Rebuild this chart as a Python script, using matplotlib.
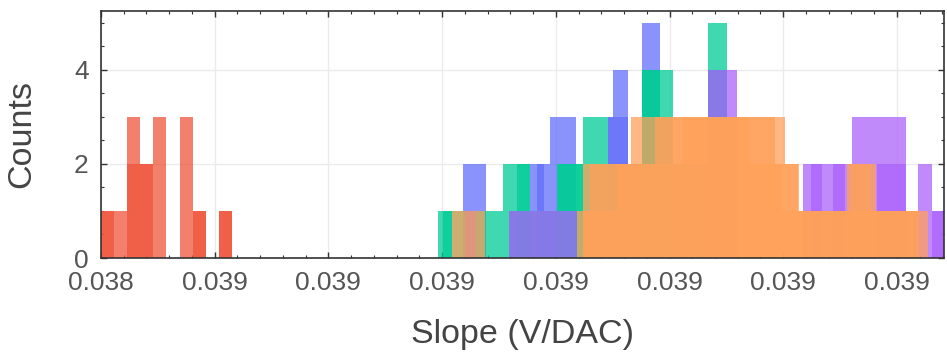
import numpy as np
import matplotlib.pyplot as plt
from matplotlib.ticker import MultipleLocator, FixedLocator

plt.rcParams['font.family'] = ['Liberation Sans', 'DejaVu Sans']

RED = '#EF553B'
GREEN = '#00CC96'
BLUE = '#636EFA'
PURPLE = '#AB63FA'
ORANGE = '#FFA15A'

# red group (two runs on the same bins)
red_start = 0.03845
red_width = 5.76e-6
red_a_counts = [1, 1, 3, 2, 3, 0, 3, 1, 0, 1]
red_b_counts = [1, 0, 2, 2, 0, 0, 0, 1, 0, 1]

# blue group
blue_a_edges = [0.0386092, 0.0386193, 0.0386294, 0.0386387, 0.0386475, 0.0386589, 0.0386730,
                0.0386752, 0.0386818, 0.0386879, 0.0386958, 0.0387169, 0.0387253]
blue_a_counts = [2, 0, 1, 2, 3, 0, 3, 4, 1, 5, 1, 4]
blue_b_edges = [0.0386294, 0.0386417, 0.0386448, 0.0386475, 0.0386593, 0.0386730, 0.0386818]
blue_b_counts = [0, 2, 1, 1, 0, 3]

# green group
green_a_edges = [0.0385982, 0.0386044, 0.0386189, 0.0386268, 0.0386387, 0.0386505, 0.0386620,
                 0.0386730, 0.0386879, 0.0386958, 0.0387015, 0.0387169, 0.0387253]
green_a_counts = [1, 1, 1, 2, 1, 2, 3, 2, 4, 4, 2, 5]
green_b_edges = [0.0386004, 0.0386044, 0.0386329, 0.0386387, 0.0386505, 0.0386620,
                 0.0386879, 0.0386958, 0.0387015]
green_b_counts = [1, 0, 2, 0, 2, 0, 4, 3]

# purple group
purple_a_edges = [0.0386101, 0.0386149, 0.0386294, 0.0386593, 0.0387169, 0.0387297, 0.0387587,
                  0.0387803, 0.0387913, 0.0388040, 0.0388093, 0.0388154, 0.0388207]
purple_a_counts = [1, 0, 1, 0, 4, 0, 2, 3, 3, 1, 2, 1]
purple_b_edges = [0.0387622, 0.0387671, 0.0387719, 0.0387772, 0.0387913, 0.0388040,
                  0.0388154, 0.0388207]
purple_b_counts = [2, 0, 2, 0, 2, 0, 1]

# orange group (three runs, uniform bins each)
orange_a_start, orange_a_width = 0.0386593, 5.72e-6
orange_a_counts = [1, 2, 2, 2, 2, 2, 3, 3, 3, 3, 3, 3, 3, 3, 3, 3, 2, 1, 1, 1, 1, 2, 2, 1, 1, 1, 1]
orange_b_start, orange_b_width = 0.0386620, 1.055e-5
orange_b_counts = [2, 2, 3, 3, 3, 3, 3, 3, 2, 1, 1, 2, 1, 1]
orange_c_start, orange_c_width = 0.0386044, 1.451e-5
orange_c_counts = [1, 0, 0, 0, 1, 2, 2, 3, 3, 2, 1, 1, 1, 1]

x_ticks = [0.03845, 0.03850, 0.03855, 0.03860, 0.03865, 0.03870, 0.03875, 0.03880]
x_tick_labels = ['0.038', '0.039', '0.039', '0.039', '0.039', '0.039', '0.039', '0.039']
x_range = (0.03845, 0.0388207)


def uniform_edges(start, width, counts):
    return start + width * np.arange(len(counts) + 1)


fig = plt.figure(figsize=(9.47, 3.54), dpi=100)
ax = fig.add_axes([101 / 947, 1 - 258 / 354, 843 / 947, 247 / 354])

alpha = 0.75
layers = [
    (red_a_counts, uniform_edges(red_start, red_width, red_a_counts), RED),
    (red_b_counts, uniform_edges(red_start, red_width, red_b_counts), RED),
    (blue_a_counts, blue_a_edges, BLUE),
    (blue_b_counts, blue_b_edges, BLUE),
    (green_a_counts, green_a_edges, GREEN),
    (green_b_counts, green_b_edges, GREEN),
    (purple_a_counts, purple_a_edges, PURPLE),
    (purple_b_counts, purple_b_edges, PURPLE),
    (orange_a_counts, uniform_edges(orange_a_start, orange_a_width, orange_a_counts), ORANGE),
    (orange_b_counts, uniform_edges(orange_b_start, orange_b_width, orange_b_counts), ORANGE),
    (orange_c_counts, uniform_edges(orange_c_start, orange_c_width, orange_c_counts), ORANGE),
]
for counts, edges, color in layers:
    ax.stairs(counts, edges, fill=True, color=color, alpha=alpha, linewidth=0, zorder=2)

ax.set_xlim(*x_range)
ax.set_ylim(0, 5.25)
ax.xaxis.set_major_locator(FixedLocator(x_ticks))
ax.set_xticklabels(x_tick_labels)
ax.xaxis.set_minor_locator(MultipleLocator(0.00001))
ax.yaxis.set_major_locator(MultipleLocator(2))
ax.yaxis.set_minor_locator(MultipleLocator(0.5))

ax.grid(True, which='major', color='#ebebeb', lw=1, zorder=0)
ax.set_axisbelow(True)
for sp in ax.spines.values():
    sp.set_color('#333333')
    sp.set_linewidth(1.2)
    sp.set_zorder(3)
ax.tick_params(which='both', direction='in', top=True, right=True, color='#333333',
               labelcolor='#555555', labelsize=19)
ax.tick_params(which='major', length=4, width=1, pad=9)
ax.tick_params(which='minor', length=2.5, width=0.8)

ax.set_xlabel('Slope (V/DAC)', fontsize=24.5, color='#444444', labelpad=18)
ax.set_ylabel('Counts', fontsize=24.5, color='#444444', labelpad=26)

fig.savefig('out.png', dpi=100)
